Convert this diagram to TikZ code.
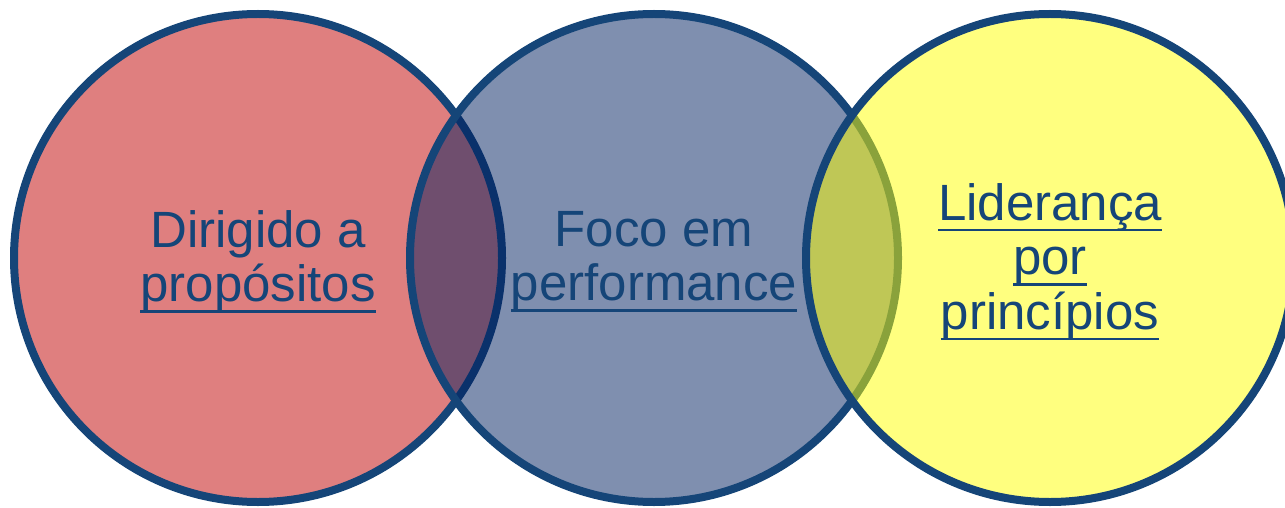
\documentclass[tikz,border=0pt]{standalone}
\usepackage{fontspec}
\setmainfont{Liberation Sans}
\usepackage{tikz}
\definecolor{rim}{RGB}{21,69,120}
\definecolor{wine}{RGB}{192,0,0}
\definecolor{navy}{RGB}{0,31,95}
\definecolor{lemon}{RGB}{255,255,0}
\newcommand{\undl}[1]{\setbox0\hbox{#1}\rlap{\rule[-11pt]{\wd0}{2.5pt}}\box0}
\tikzstyle{ring}  = [circle,draw=rim,line width=8pt,minimum size=488pt,inner sep=0pt,fill opacity=0.5]
\tikzstyle{vtext} = [text=rim,align=center,inner sep=0pt,font=\fontsize{51}{54.5}\selectfont]

\begin{document}
\begin{tikzpicture}[x=1pt,y=1pt]
  \useasboundingbox (0,0) rectangle (1285,507);
  % the three circles
  \node[ring,fill=wine](purpose)at(258,249){};
  \node[ring,fill=navy](perf)at(654,249){};
  \node[ring,fill=lemon](lead)at(1050,249){};
  % their texts
  \node[vtext,yshift=-3.5pt](tpurpose)at(purpose){Dirigido a\\\undl{propósitos}};
  \node[vtext,yshift=-3.5pt](tperf)at(perf){Foco em\\\undl{performance}};
  \node[vtext,yshift=-4pt](tlead)at(lead){\undl{Liderança}\\\undl{por}\\\undl{princípios}};
\end{tikzpicture}
\end{document}
